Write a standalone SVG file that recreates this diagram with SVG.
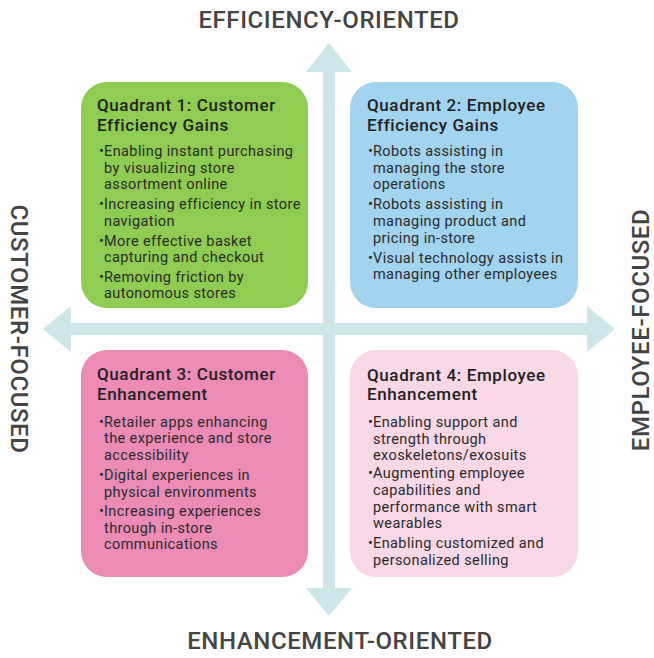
<svg xmlns="http://www.w3.org/2000/svg" width="654" height="658" viewBox="0 0 654 658">
  <style>
    .axis { fill: #cce6e9; }
    .axlabel { font-family: "Roboto", "Liberation Sans", sans-serif; font-size: 24px; font-weight: 500; letter-spacing: 0.6px; fill: #444444; }
    .title { font-family: "Roboto", "Liberation Sans", sans-serif; font-size: 17px; font-weight: 500; letter-spacing: 0.6px; fill: #222222; }
    .item { font-family: "Roboto", "Liberation Sans", sans-serif; font-size: 14.5px; letter-spacing: 0.4px; fill: #2a2a2a; }
    .q1 { fill: #8ecd52; }
    .q2 { fill: #a2d3ef; }
    .q3 { fill: #ec8bb6; }
    .q4 { fill: #f8d7e6; }
  </style>

  <!-- axes -->
  <g id="connectors">
    <polygon class="axis" points="329,43 352,72 335,72 335,588 352,588 329,616 306,588 323,588 323,72 306,72"/>
    <polygon class="axis" points="43,329 71,306 71,323 587,323 587,306 615,329 587,352 587,335 71,335 71,352"/>
  </g>

  <!-- axis labels -->
  <g id="label-top"><text class="axlabel" x="329" y="28" text-anchor="middle">EFFICIENCY-ORIENTED</text></g>
  <g id="label-bottom"><text class="axlabel" x="340" y="649" text-anchor="middle">ENHANCEMENT-ORIENTED</text></g>
  <g id="label-left"><text class="axlabel" transform="translate(11,329) rotate(90)" text-anchor="middle">CUSTOMER-FOCUSED</text></g>
  <g id="label-right"><text class="axlabel" transform="translate(649,330) rotate(-90)" text-anchor="middle">EMPLOYEE-FOCUSED</text></g>

  <!-- quadrant 1 -->
  <g id="q1">
    <rect class="q1" x="81" y="82" width="227" height="226" rx="26"/>
    <text class="title" x="97" y="111">Quadrant 1: Customer</text>
    <text class="title" x="97" y="131">Efficiency Gains</text>
    <text class="item" x="99" y="156">•</text>
    <text class="item" x="104" y="156">Enabling instant purchasing</text>
    <text class="item" x="104" y="173">by visualizing store</text>
    <text class="item" x="104" y="189">assortment online</text>
    <text class="item" x="99" y="209">•</text>
    <text class="item" x="104" y="209">Increasing efficiency in store</text>
    <text class="item" x="104" y="226">navigation</text>
    <text class="item" x="99" y="246">•</text>
    <text class="item" x="104" y="246">More effective basket</text>
    <text class="item" x="104" y="262">capturing and checkout</text>
    <text class="item" x="99" y="282">•</text>
    <text class="item" x="104" y="282">Removing friction by</text>
    <text class="item" x="104" y="298">autonomous stores</text>
  </g>

  <!-- quadrant 2 -->
  <g id="q2">
    <rect class="q2" x="350" y="82" width="228" height="226" rx="26"/>
    <text class="title" x="367" y="111">Quadrant 2: Employee</text>
    <text class="title" x="367" y="131">Efficiency Gains</text>
    <text class="item" x="368" y="156">•</text>
    <text class="item" x="373" y="156">Robots assisting in</text>
    <text class="item" x="373" y="173">managing the store</text>
    <text class="item" x="373" y="189">operations</text>
    <text class="item" x="368" y="209">•</text>
    <text class="item" x="373" y="209">Robots assisting in</text>
    <text class="item" x="373" y="226">managing product and</text>
    <text class="item" x="373" y="243">pricing in-store</text>
    <text class="item" x="368" y="263">•</text>
    <text class="item" x="373" y="263">Visual technology assists in</text>
    <text class="item" x="373" y="279">managing other employees</text>
  </g>

  <!-- quadrant 3 -->
  <g id="q3">
    <rect class="q3" x="81" y="350" width="227" height="227" rx="26"/>
    <text class="title" x="97" y="380">Quadrant 3: Customer</text>
    <text class="title" x="97" y="400">Enhancement</text>
    <text class="item" x="99" y="427">•</text>
    <text class="item" x="104" y="427">Retailer apps enhancing</text>
    <text class="item" x="104" y="443">the experience and store</text>
    <text class="item" x="104" y="460">accessibility</text>
    <text class="item" x="99" y="480">•</text>
    <text class="item" x="104" y="480">Digital experiences in</text>
    <text class="item" x="104" y="497">physical environments</text>
    <text class="item" x="99" y="516">•</text>
    <text class="item" x="104" y="516">Increasing experiences</text>
    <text class="item" x="104" y="533">through in-store</text>
    <text class="item" x="104" y="549">communications</text>
  </g>

  <!-- quadrant 4 -->
  <g id="q4">
    <rect class="q4" x="350" y="350" width="228" height="227" rx="26"/>
    <text class="title" x="367" y="381">Quadrant 4: Employee</text>
    <text class="title" x="367" y="400">Enhancement</text>
    <text class="item" x="368" y="427">•</text>
    <text class="item" x="373" y="427">Enabling support and</text>
    <text class="item" x="373" y="444">strength through</text>
    <text class="item" x="373" y="460">exoskeletons/exosuits</text>
    <text class="item" x="368" y="478">•</text>
    <text class="item" x="373" y="478">Augmenting employee</text>
    <text class="item" x="373" y="495">capabilities and</text>
    <text class="item" x="373" y="512">performance with smart</text>
    <text class="item" x="373" y="528">wearables</text>
    <text class="item" x="368" y="548">•</text>
    <text class="item" x="373" y="548">Enabling customized and</text>
    <text class="item" x="373" y="565">personalized selling</text>
  </g>
</svg>
